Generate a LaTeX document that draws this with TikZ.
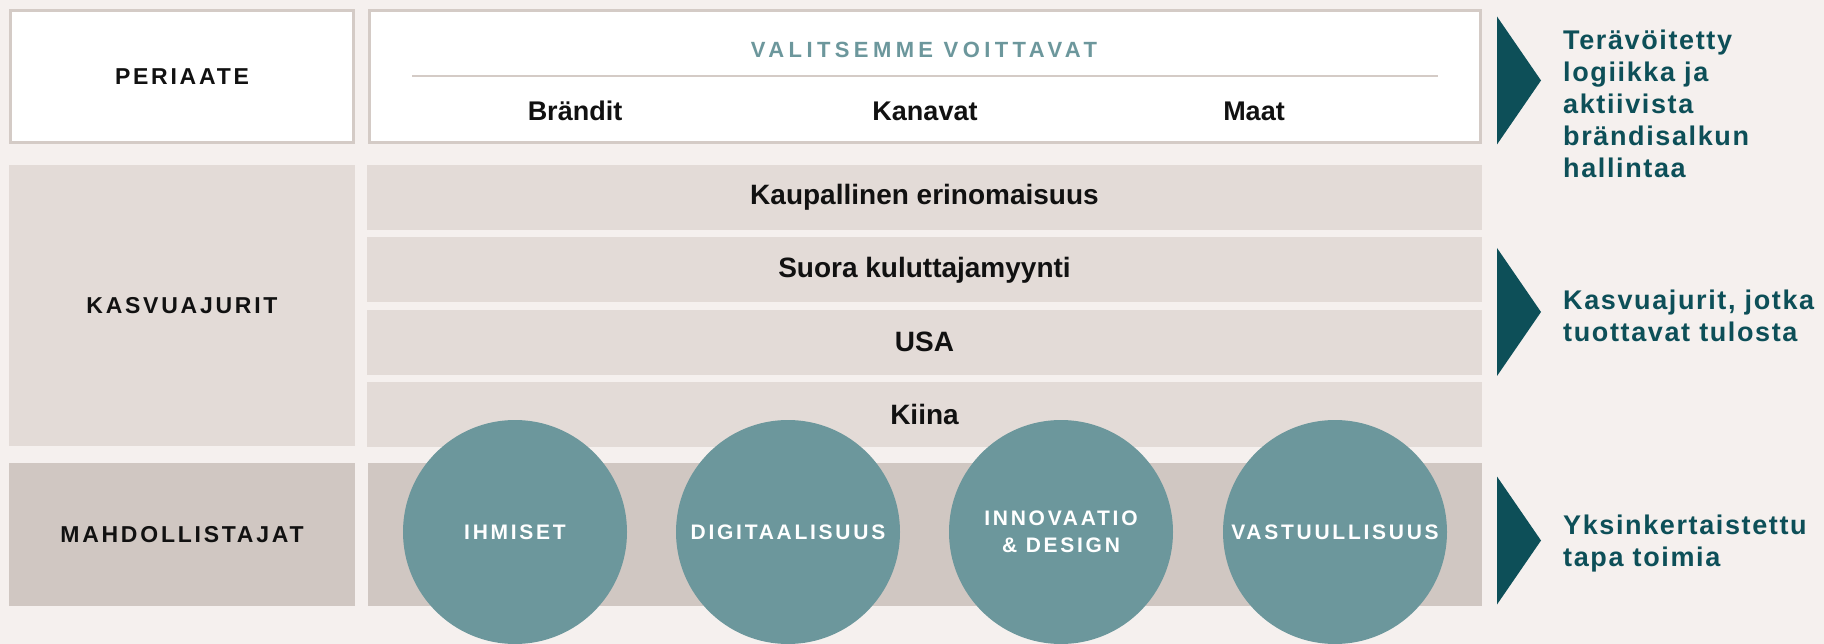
\documentclass[tikz,border=0pt]{standalone}
\usepackage{fontspec}
\setmainfont{Liberation Sans}
\newfontfamily\labelfont[LetterSpace=12]{Liberation Sans}
\newfontfamily\titlefont[LetterSpace=20]{Liberation Sans}
\newfontfamily\circlefont[LetterSpace=13]{Liberation Sans}
\newfontfamily\notefont[LetterSpace=6]{Liberation Sans}
\usepackage{tikz}
\usetikzlibrary{positioning}
\definecolor{bgcol}{HTML}{F5F0EE}
\definecolor{rowfill}{HTML}{E3DBD7}
\definecolor{enabfill}{HTML}{D0C7C2}
\definecolor{boxline}{HTML}{D4CBC6}
\definecolor{tealsoft}{HTML}{6C979C}
\definecolor{tealdark}{HTML}{0D4F58}
\definecolor{inkcol}{HTML}{111111}
\newcommand{\drawPointer}[1]{% center: y
  \fill[tealdark] (1497, #1-64) -- (1541, #1) -- (1497, #1+64) -- cycle;
}

\begin{document}
\begin{tikzpicture}[x=1pt,y=-1pt,
  headbox/.style={draw=boxline,line width=3pt,fill=white,inner sep=0pt},
  sidelabel/.style={inner sep=0pt,text=inkcol,font=\fontsize{23}{27}\labelfont\bfseries},
  rowbox/.style={fill=rowfill,inner sep=0pt,minimum width=1115pt,minimum height=65pt,
    text=inkcol,font=\fontsize{28}{32}\selectfont\bfseries},
  pillar/.style={inner sep=0pt,text=inkcol,font=\fontsize{27}{32}\selectfont\bfseries},
  enabler/.style={circle,fill=tealsoft,minimum size=224pt,inner sep=0pt,align=center,
    text=white,font=\fontsize{21}{27}\circlefont\bfseries},
  note/.style={anchor=west,align=left,inner sep=0pt,text=tealdark,
    font=\fontsize{27}{32}\notefont\bfseries}]
% Canvas
\fill[bgcol] (0,0) rectangle (1824,644);
\useasboundingbox (0,0) rectangle (1824,644);

% Principle row
\node[headbox,minimum width=343pt,minimum height=132pt] (periaate) at (182,76.5) {};
\node[sidelabel] (periaatelbl) at (periaate.center) {PERIAATE};
\node[headbox,minimum width=1111pt,minimum height=132pt] (voittavat) at (925,76.5) {};
\node[inner sep=0pt,text=tealsoft,font=\fontsize{22}{26}\titlefont\bfseries] (voittavatlbl) at (924,50) {VALITSEMME VOITTAVAT};
\coordinate (rulel) at (412,76);
\coordinate (ruler) at (1438,76);
\draw[boxline,line width=2.5pt] (rulel) -- (ruler);
\node[pillar] (brandit) at (575,111) {Brändit};
\node[pillar] (kanavat) at (925,111) {Kanavat};
\node[pillar] (maat) at (1254,111) {Maat};

% Growth drivers
\node[fill=rowfill,minimum width=346pt,minimum height=281pt,inner sep=0pt] (kasvu) at (182,305.5) {};
\node[sidelabel] (kasvulbl) at (kasvu.center) {KASVUAJURIT};
\node[rowbox] (kaupallinen) at (924.5,197.5) {Kaupallinen erinomaisuus};
\node[rowbox,below=7pt of kaupallinen] (suora) {Suora kuluttajamyynti};
\node[rowbox,below=7pt of suora] (usa) {USA};
\node[rowbox,below=7pt of usa] (kiina) {Kiina};

% Enablers
\node[fill=enabfill,minimum width=346pt,minimum height=143pt,inner sep=0pt] (mahd) at (182,534.5) {};
\node[sidelabel] (mahdlbl) at (mahd.center) {MAHDOLLISTAJAT};
\node[fill=enabfill,minimum width=1114pt,minimum height=143pt,inner sep=0pt] (mahdrow) at (925,534.5) {};
\node[enabler] (ihmiset) at (515,532) {IHMISET};
\node[enabler] (digi) at (788,532) {DIGITAALISUUS};
\node[enabler] (innovaatio) at (1061,532) {INNOVAATIO\\\& DESIGN};
\node[enabler] (vastuu) at (1335,532) {VASTUULLISUUS};

% Pointers and notes
\drawPointer{80.5}
\drawPointer{312}
\drawPointer{540.5}
\node[note] (note1) at (1563,104) {Terävöitetty\\logiikka ja\\aktiivista\\brändisalkun\\hallintaa};
\node[note] (note2) at (1563,316) {Kasvuajurit, jotka\\tuottavat tulosta};
\node[note] (note3) at (1563,544) {Yksinkertaistettu\\tapa toimia};
\end{tikzpicture}
\end{document}
